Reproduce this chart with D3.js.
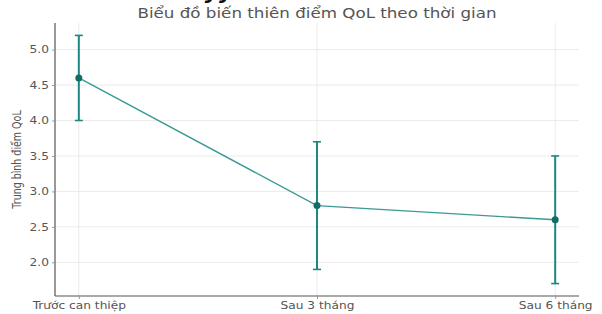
<!DOCTYPE html>
<html>
<head>
<meta charset="utf-8">
<script src="https://cdn.jsdelivr.net/npm/d3@7"></script>
<style>
  body { margin: 0; background: #fff; }
  text { font-family: "DejaVu Sans", sans-serif; }
</style>
</head>
<body>
<div id="chart"></div>
<script>
// data
const timepoints = ["Trước can thiệp", "Sau 3 tháng", "Sau 6 tháng"];
const meanQoL = [4.6, 2.8, 2.6];
const errQoL = [0.6, 0.9, 0.9];
const yTicks = [2.0, 2.5, 3.0, 3.5, 4.0, 4.5, 5.0];

const W = 602, H = 314;
const margin = { top: 23, right: 23, bottom: 18, left: 55 };
const width = W - margin.left - margin.right,
      height = H - margin.top - margin.bottom;
const sx = 1.22; // the picture is a bit wider than tall, text too

const svg = d3.select("#chart").append("svg")
    .attr("width", W).attr("height", H);

// cut off heading above the chart
svg.append("text")
    .attr("x", 219).attr("y", -1)
    .attr("text-anchor", "middle")
    .style("font-size", "22px").style("font-weight", "bold").style("font-style", "italic")
    .attr("fill", "#111")
    .text("yy");

const g = svg.append("g")
    .attr("transform", `translate(${margin.left},${margin.top})`);

// categorical x with matplotlib style padding
const xi = d3.scaleLinear().domain([-0.1, 2.1]).range([0, width]);
const x = i => xi(i);
const lo = d3.min(meanQoL.map((d, i) => d - errQoL[i])),
      hi = d3.max(meanQoL.map((d, i) => d + errQoL[i]));
const pad = (hi - lo) * 0.05;
const y = d3.scaleLinear().domain([lo - pad, hi + pad]).range([height, 0]);

// grid
g.append("g").selectAll("line").data(yTicks).enter().append("line")
    .attr("x1", 0).attr("x2", width)
    .attr("y1", d => y(d)).attr("y2", d => y(d))
    .attr("stroke", "#e6e6e6").attr("stroke-width", 0.8);
g.append("g").selectAll("line").data(timepoints).enter().append("line")
    .attr("x1", (d, i) => x(i)).attr("x2", (d, i) => x(i))
    .attr("y1", 0).attr("y2", height)
    .attr("stroke", "#e6e6e6").attr("stroke-width", 0.8);

// axes
const yAxis = g.append("g")
    .call(d3.axisLeft(y).tickValues(yTicks).tickFormat(d3.format(".1f")).tickSize(3).tickPadding(2));
const xAxis = g.append("g")
    .attr("transform", `translate(0,${height})`)
    .call(d3.axisBottom(xi).tickValues([0, 1, 2]).tickFormat(i => timepoints[i]).tickSize(3).tickPadding(3));
[yAxis, xAxis].forEach(a => {
  a.select(".domain").attr("stroke", "#555").attr("stroke-width", 1.2);
  a.selectAll(".tick line").attr("stroke", "#999");
  a.selectAll("text").attr("fill", "#555").style("font-size", "10px")
      .attr("transform", `scale(${sx},1)`);
});
yAxis.select(".domain").attr("d", `M0,${height}V0`);
xAxis.select(".domain").attr("d", `M0,0H${width}`);

// line
const line = d3.line().x((d, i) => x(i)).y(d => y(d));
g.append("path").datum(meanQoL)
    .attr("d", line)
    .attr("fill", "none")
    .attr("stroke", "#3a9a94").attr("stroke-width", 1.4);

// error bars
const eb = g.append("g").selectAll("g").data(meanQoL).enter().append("g");
eb.append("line")
    .attr("x1", (d, i) => x(i)).attr("x2", (d, i) => x(i))
    .attr("y1", (d, i) => y(d - errQoL[i])).attr("y2", (d, i) => y(d + errQoL[i]))
    .attr("stroke", "#1e8780").attr("stroke-width", 2);
[-1, 1].forEach(s => {
  eb.append("line")
      .attr("x1", (d, i) => x(i) - 4).attr("x2", (d, i) => x(i) + 4)
      .attr("y1", (d, i) => y(d + s * errQoL[i])).attr("y2", (d, i) => y(d + s * errQoL[i]))
      .attr("stroke", "#1e8780").attr("stroke-width", 1.6);
});
eb.append("circle")
    .attr("cx", (d, i) => x(i)).attr("cy", d => y(d))
    .attr("r", 3.5).attr("fill", "#0f6e66");

// title + y label
svg.append("text")
    .attr("transform", `translate(${margin.left + width / 2},18) scale(${sx},1)`)
    .attr("text-anchor", "middle")
    .attr("fill", "#555").style("font-size", "13.7px")
    .text("Biểu đồ biến thiên điểm QoL theo thời gian");
svg.append("text")
    .attr("transform", `translate(21,${margin.top + height / 2}) scale(${sx},1) rotate(-90)`)
    .attr("text-anchor", "middle")
    .attr("fill", "#555").style("font-size", "9.5px")
    .text("Trung bình điểm QoL");
</script>
</body>
</html>
